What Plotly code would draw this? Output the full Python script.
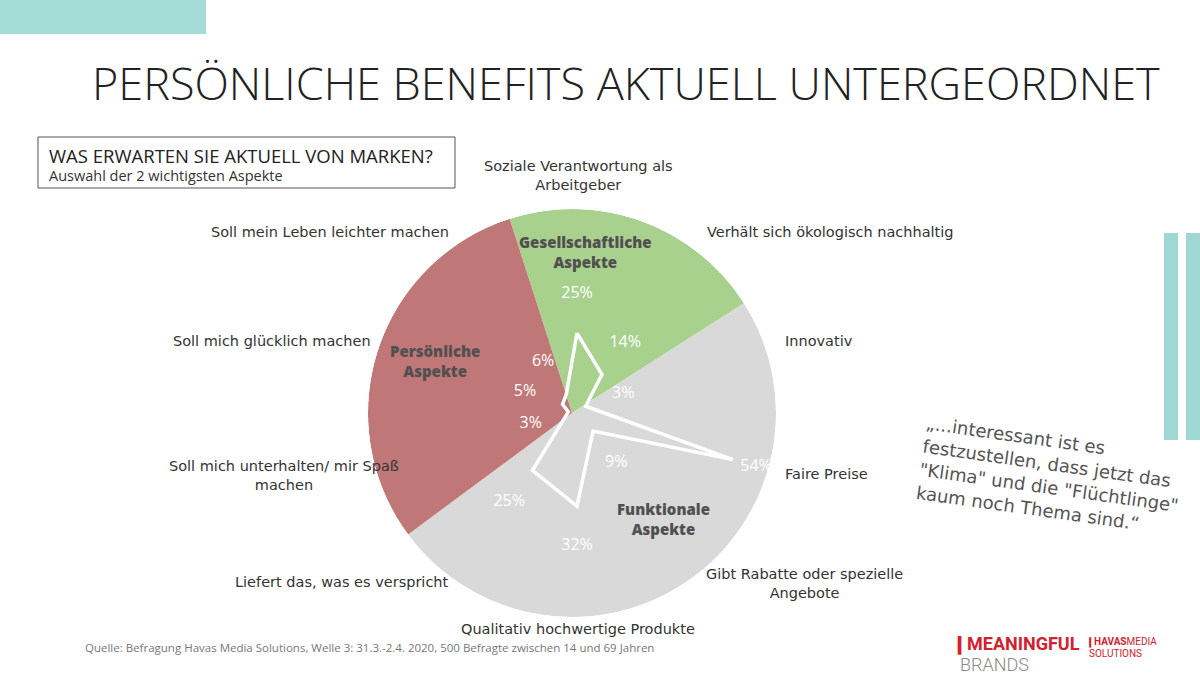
import plotly.graph_objects as go

W, H = 1200, 675

# ---------------- data ----------------
categories = [
    "Soziale Verantwortung als<br>Arbeitgeber",
    "Verhält sich ökologisch nachhaltig",
    "Innovativ",
    "Faire Preise",
    "Gibt Rabatte oder spezielle<br>Angebote",
    "Qualitativ hochwertige Produkte",
    "Liefert das, was es verspricht",
    "Soll mich unterhalten/ mir Spaß<br>machen",
    "Soll mich glücklich machen",
    "Soll mein Leben leichter machen",
]
values = [25, 14, 3, 54, 9, 32, 25, 3, 5, 6]

segments = ["Gesellschaftliche", "Funktionale", "Persönliche"]
segment_shares = [20.9, 48.9, 30.2]          # share of the background circle (%)
segment_colors = ["#a9d18e", "#d9d9d9", "#c07777"]
segment_start = -17.8                         # degrees, clockwise from 12 o'clock

# ---------------- layout helpers ----------------
def px(x):
    return x / W

def py(y):
    return 1 - y / H

n = len(categories)
axis_theta = [i * 360 / n for i in range(n)]
R_MAX = 67.2

# category label placement (pixel anchor, alignment) – layout only
label_pos = [
    (578, 176, "center"), (705, 232, "left"), (783, 341, "left"), (783, 474, "left"),
    (805, 583, "center"), (578, 629, "center"), (451, 582, "right"), (284, 475, "center"),
    (373, 341, "right"), (451, 232, "right"),
]

fig = go.Figure()

# background segments as polar bars
thetas, widths = [], []
acc = segment_start
for s in segment_shares:
    w = s * 3.6
    thetas.append(acc + w / 2)
    widths.append(w)
    acc += w
fig.add_trace(go.Barpolar(
    r=[R_MAX] * len(segments), theta=thetas, width=widths,
    marker=dict(color=segment_colors, line=dict(width=0)),
    hoverinfo="skip", showlegend=False, subplot="polar",
))

# radar line (separate, slightly offset polar overlay as in the original)
fig.add_trace(go.Scatterpolar(
    r=values + [values[0]], theta=axis_theta + [axis_theta[0]],
    mode="lines", line=dict(color="white", width=3.5),
    hoverinfo="skip", showlegend=False, subplot="polar2",
))

# value labels
fig.add_trace(go.Scatterpolar(
    r=[min(v + 13, 62) for v in values], theta=axis_theta,
    mode="text", text=[f"{v}%" for v in values],
    textfont=dict(family="Open Sans", size=16, color="white"),
    hoverinfo="skip", showlegend=False, subplot="polar2",
))

ang = dict(direction="clockwise", rotation=90, showgrid=False, showline=False,
           ticks="", showticklabels=False)
fig.update_layout(
    width=W, height=H,
    margin=dict(l=0, r=0, t=0, b=0),
    paper_bgcolor="white",
    polar=dict(
        domain=dict(x=[px(368), px(776)], y=[py(617), py(209)]),
        bgcolor="rgba(0,0,0,0)", hole=0,
        radialaxis=dict(visible=False, range=[0, R_MAX]),
        angularaxis=ang,
    ),
    polar2=dict(
        domain=dict(x=[px(373), px(781)], y=[py(613), py(205)]),
        bgcolor="rgba(0,0,0,0)", hole=0,
        radialaxis=dict(visible=False, range=[0, R_MAX]),
        angularaxis=ang,
    ),
)

shapes = [
    dict(type="rect", xref="paper", yref="paper", x0=0, x1=px(206), y0=py(34), y1=1,
         fillcolor="#a6dcd8", line=dict(width=0), layer="below"),
    dict(type="rect", xref="paper", yref="paper", x0=px(1164), x1=px(1178), y0=py(440), y1=py(233),
         fillcolor="#9fd7d2", line=dict(width=0)),
    dict(type="rect", xref="paper", yref="paper", x0=px(1186), x1=1, y0=py(440), y1=py(233),
         fillcolor="#9fd7d2", line=dict(width=0)),
    dict(type="rect", xref="paper", yref="paper", x0=px(38), x1=px(455), y0=py(188), y1=py(137),
         fillcolor="rgba(0,0,0,0)", line=dict(color="#555555", width=1)),
]

ann = []
def text(x, y, t, size, color="#333", xanchor="left", family="Open Sans", weight=None, angle=0, align="left"):
    f = dict(family=family, size=size, color=color)
    if weight:
        f["weight"] = weight
    ann.append(dict(x=px(x), y=py(y), xref="paper", yref="paper", text=t, showarrow=False,
                    xanchor=xanchor, yanchor="middle", font=f, textangle=angle, align=align))

text(90, 82, "PERSÖNLICHE BENEFITS AKTUELL UNTERGEORDNET", 45, "#222", family="Open Sans", weight=300)
text(47, 155, "WAS ERWARTEN SIE AKTUELL VON MARKEN?", 18.5, "#222")
text(47, 175, "Auswahl der 2 wichtigsten Aspekte", 14.5, "#333")

# category labels around the circle
for cat, (lx, ly, al) in zip(categories, label_pos):
    text(lx, ly, cat, 14.5, "#333", xanchor=al, family="DejaVu Sans", align=al)

# segment labels
text(585, 252, "Gesellschaftliche<br>Aspekte", 15, "#505050", xanchor="center", weight=800, align="center")
text(435, 361, "Persönliche<br>Aspekte", 15, "#505050", xanchor="center", weight=800, align="center")
text(663, 519, "Funktionale<br>Aspekte", 15, "#505050", xanchor="center", weight=800, align="center")

# quote
text(1050, 475, "„...interessant ist es<br>festzustellen, dass jetzt das<br>\"Klima\" und die \"Flüchtlinge\"<br>kaum noch Thema sind.“",
     18, "#555", xanchor="center", family="DejaVu Sans", angle=8, align="left")

# source
text(83, 647, "Quelle: Befragung Havas Media Solutions, Welle 3: 31.3.-2.4. 2020, 500 Befragte zwischen 14 und 69 Jahren",
     11.5, "#777")

# logos
text(950, 644, "<b>❙MEANINGFUL</b>", 18, "#d5202e", family="Roboto")
text(958, 664, "BRANDS", 18, "#8a8a8a", family="Roboto", weight=300)
text(1084, 642, "<b>❙HAVAS</b>MEDIA", 10, "#d5202e", family="Roboto")
text(1087, 653, "SOLUTIONS", 10, "#d5202e", family="Roboto")

fig.update_layout(shapes=shapes, annotations=ann)
fig.write_html("out.html")
